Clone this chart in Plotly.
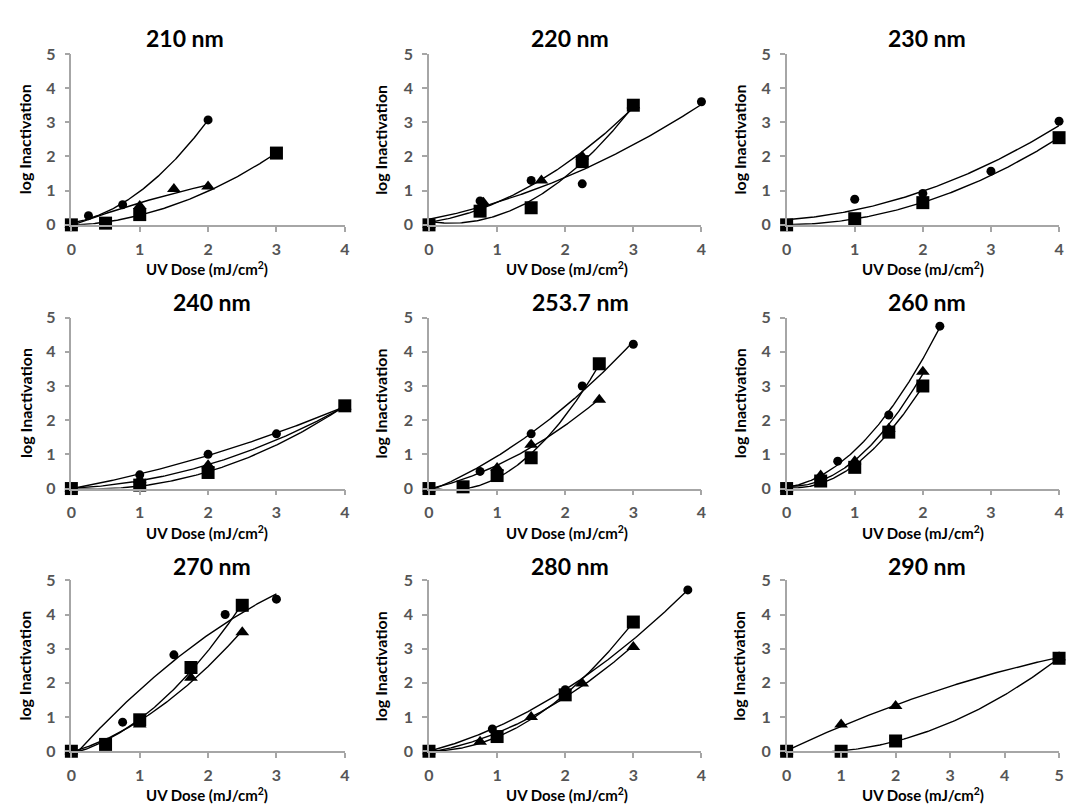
import numpy as np
import plotly.graph_objects as go

# ---------------- data ----------------
panel_titles = ["210 nm", "220 nm", "230 nm", "240 nm", "253.7 nm",
                "260 nm", "270 nm", "280 nm", "290 nm"]
x_tick_max = [4, 4, 4, 4, 4, 4, 4, 4, 5]
y_ticks = [0, 1, 2, 3, 4, 5]

circle_x_210 = [0, 0.25, 0.75, 2.0]
circle_y_210 = [0, 0.27, 0.59, 3.07]
tri_x_210 = [0, 1.0, 1.5, 2.0]
tri_y_210 = [0, 0.55, 1.05, 1.12]
sq_x_210 = [0, 0.5, 1.0, 3.0]
sq_y_210 = [0, 0.05, 0.3, 2.1]

circle_x_220 = [0, 0.75, 1.5, 2.25, 4.0]
circle_y_220 = [0, 0.7, 1.3, 1.2, 3.6]
tri_x_220 = [0, 0.8, 1.65, 2.25, 3.0]
tri_y_220 = [0, 0.65, 1.3, 2.0, 3.5]
sq_x_220 = [0, 0.75, 1.5, 2.25, 3.0]
sq_y_220 = [0, 0.4, 0.5, 1.85, 3.5]

circle_x_230 = [0, 1, 2, 3, 4]
circle_y_230 = [0, 0.75, 0.92, 1.57, 3.03]
sq_x_230 = [0, 1, 2, 4]
sq_y_230 = [0, 0.18, 0.65, 2.55]

circle_x_240 = [0, 1, 2, 3, 4]
circle_y_240 = [0, 0.4, 1.0, 1.6, 2.4]
tri_x_240 = [0, 1, 2, 4]
tri_y_240 = [0, 0.25, 0.68, 2.4]
sq_x_240 = [0, 1, 2, 4]
sq_y_240 = [0, 0.1, 0.47, 2.42]

circle_x_254 = [0, 0.75, 1.5, 2.25, 3.0]
circle_y_254 = [0, 0.5, 1.6, 3.0, 4.22]
tri_x_254 = [0, 1.0, 1.5, 2.5]
tri_y_254 = [0, 0.6, 1.28, 2.6]
sq_x_254 = [0, 0.5, 1.0, 1.5, 2.5]
sq_y_254 = [0, 0.05, 0.38, 0.9, 3.65]

circle_x_260 = [0, 0.75, 1.5, 2.25]
circle_y_260 = [0, 0.8, 2.15, 4.75]
tri_x_260 = [0, 0.5, 1.0, 1.5, 2.0]
tri_y_260 = [0, 0.38, 0.8, 1.75, 3.42]
sq_x_260 = [0, 0.5, 1.0, 1.5, 2.0]
sq_y_260 = [0, 0.22, 0.62, 1.65, 3.0]

circle_x_270 = [0, 0.75, 1.5, 2.25, 3.0]
circle_y_270 = [0, 0.85, 2.82, 4.0, 4.45]
tri_x_270 = [0, 1.0, 1.75, 2.5]
tri_y_270 = [0, 0.78, 2.15, 3.48]
sq_x_270 = [0, 0.5, 1.0, 1.75, 2.5]
sq_y_270 = [0, 0.2, 0.92, 2.45, 4.27]

circle_x_280 = [0, 0.93, 2.0, 3.8]
circle_y_280 = [0, 0.65, 1.8, 4.72]
tri_x_280 = [0, 0.75, 1.5, 2.25, 3.0]
tri_y_280 = [0, 0.28, 1.0, 1.98, 3.05]
sq_x_280 = [0, 1.0, 2.0, 3.0]
sq_y_280 = [0, 0.43, 1.65, 3.78]

tri_x_290 = [0, 1, 2, 5]
tri_y_290 = [0, 0.78, 1.32, 2.75]
sq_x_290 = [0, 1, 2, 5]
sq_y_290 = [0, 0, 0.3, 2.72]

panels = [
    [("circle", circle_x_210, circle_y_210), ("triangle-up", tri_x_210, tri_y_210), ("square", sq_x_210, sq_y_210)],
    [("circle", circle_x_220, circle_y_220), ("triangle-up", tri_x_220, tri_y_220), ("square", sq_x_220, sq_y_220)],
    [("circle", circle_x_230, circle_y_230), ("square", sq_x_230, sq_y_230)],
    [("circle", circle_x_240, circle_y_240), ("triangle-up", tri_x_240, tri_y_240), ("square", sq_x_240, sq_y_240)],
    [("circle", circle_x_254, circle_y_254), ("triangle-up", tri_x_254, tri_y_254), ("square", sq_x_254, sq_y_254)],
    [("circle", circle_x_260, circle_y_260), ("triangle-up", tri_x_260, tri_y_260), ("square", sq_x_260, sq_y_260)],
    [("circle", circle_x_270, circle_y_270), ("triangle-up", tri_x_270, tri_y_270), ("square", sq_x_270, sq_y_270)],
    [("circle", circle_x_280, circle_y_280), ("triangle-up", tri_x_280, tri_y_280), ("square", sq_x_280, sq_y_280)],
    [("triangle-up", tri_x_290, tri_y_290), ("square", sq_x_290, sq_y_290)],
]

# ---------------- layout geometry (pixels) ----------------
W, H = 1070, 812
col_x0 = [67, 428, 789]
col_x1 = [343, 703, 1064]
row_top = [45, 315, 584]
row_bot = [220, 490, 759]
title_pos = [(182, 29), (570, 29), (931, 29), (209, 299), (581, 299), (931, 299),
             (209, 569), (570, 569), (931, 569)]
ytitle_x = [20, 379, 741]
xtitle_x = [204, 567, 927]
xtitle_y = [265, 535, 803]

marker_size = {"circle": 9, "triangle-up": 12, "square": 13}

FONT = "Lato, Carlito, Calibri, Arial, sans-serif"
AXIS_GRAY = "#a6a6a6"

fig = go.Figure()
layout = dict(width=W, height=H, margin=dict(l=0, r=0, t=0, b=0),
              paper_bgcolor="white", plot_bgcolor="white", showlegend=False,
              font=dict(family=FONT))
annotations = []

for i, series in enumerate(panels):
    r, c = divmod(i, 3)
    k = "" if i == 0 else str(i + 1)
    xa, ya = "x" + k, "y" + k
    xmax = x_tick_max[i]
    layout["xaxis" + k] = dict(
        domain=[col_x0[c] / W, col_x1[c] / W], anchor=ya, range=[0, xmax],
        tickvals=list(range(0, xmax + 1)), showgrid=False, zeroline=False,
        showline=True, linecolor=AXIS_GRAY, linewidth=1.5,
        ticks="outside", ticklen=5, tickwidth=1.5, tickcolor=AXIS_GRAY,
        ticklabelstandoff=4,
        tickfont=dict(family=FONT, size=16, color="#555555", weight="bold"))
    layout["yaxis" + k] = dict(
        domain=[1 - row_bot[r] / H, 1 - row_top[r] / H], anchor=xa, range=[0, 5],
        tickvals=y_ticks, showgrid=False, zeroline=False,
        showline=True, linecolor=AXIS_GRAY, linewidth=1.5,
        ticks="outside", ticklen=5, tickwidth=1.5, tickcolor=AXIS_GRAY,
        ticklabelstandoff=6,
        tickfont=dict(family=FONT, size=16, color="#555555", weight="bold"))

    # trendlines (2nd-order polynomial fits of each series)
    for sym, xs, ys in series:
        coef = np.polyfit(xs, ys, 2)
        xf = np.linspace(min(xs), max(xs), 150)
        fig.add_trace(go.Scatter(x=xf, y=np.polyval(coef, xf), mode="lines",
                                 line=dict(color="black", width=1.4),
                                 xaxis=xa, yaxis=ya, hoverinfo="skip"))
    # markers
    for sym, xs, ys in series:
        fig.add_trace(go.Scatter(x=xs, y=ys, mode="markers", cliponaxis=False,
                                 marker=dict(symbol=sym, size=marker_size[sym],
                                             color="black", line=dict(width=0)),
                                 xaxis=xa, yaxis=ya))

    tx, ty = title_pos[i]
    annotations.append(dict(text=panel_titles[i], x=tx / W, y=1 - ty / H,
                            xref="paper", yref="paper", showarrow=False,
                            xanchor="center", yanchor="middle",
                            font=dict(family=FONT, size=23, color="black", weight="bold")))
    annotations.append(dict(text="log Inactivation", x=ytitle_x[c] / W,
                            y=1 - (row_top[r] + row_bot[r]) / 2 / H,
                            xref="paper", yref="paper", showarrow=False, textangle=-90,
                            xanchor="center", yanchor="middle",
                            font=dict(family=FONT, size=16, color="black", weight="bold")))
    annotations.append(dict(text="UV Dose (mJ/cm<sup>2</sup>)", x=xtitle_x[c] / W,
                            y=1 - xtitle_y[r] / H,
                            xref="paper", yref="paper", showarrow=False,
                            xanchor="center", yanchor="middle",
                            font=dict(family=FONT, size=15, color="black", weight="bold")))

layout["annotations"] = annotations
fig.update_layout(**layout)
fig.write_html("out.html")
